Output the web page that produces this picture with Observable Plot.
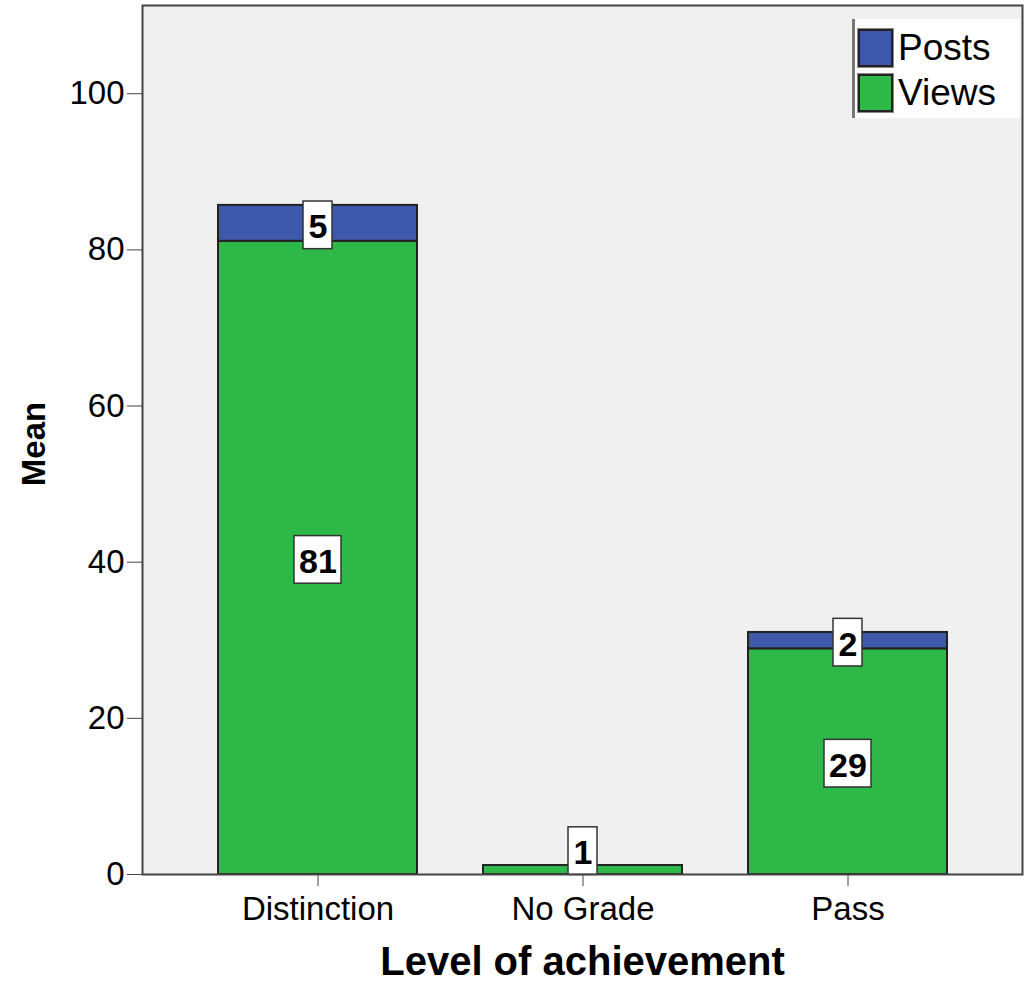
<!DOCTYPE html>
<html>
<head>
<meta charset="utf-8">
<script src="https://cdn.jsdelivr.net/npm/d3@7"></script>
<script src="https://cdn.jsdelivr.net/npm/@observablehq/plot@0.6"></script>
<style>
  html, body { margin: 0; padding: 0; background: white; }
  #wrap { position: relative; width: 1029px; height: 986px; }
  #legend { position: absolute; left: 852px; top: 19px; width: 168px; height: 99px;
            background: white; border-left: 3px solid #777; box-sizing: border-box;
            font-family: "Liberation Sans", Arial, sans-serif; font-size: 37px; }
  .item { position: absolute; left: 3px; display: flex; align-items: center; }
  .sw { width: 31px; height: 34px; border: 2px solid #222; box-shadow: 0 0 0 1px #888; margin-right: 5px; }
</style>
</head>
<body>
<div id="wrap"></div>
<script>
const categories = ["Distinction", "No Grade", "Pass"];
const seriesNames = ["Posts", "Views"];
const seriesColors = ["#3E58AC", "#2EB848"];
const viewsValues = [81.1, 1.15, 28.9];
const postsValues = [4.6, 0, 2.1];
const yTicks = [0, 20, 40, 60, 80, 100];
const xTitle = "Level of achievement";
const yTitle = "Mean";

const rows = [];
categories.forEach((c, i) => {
  rows.push({category: c, series: "Views", y1: 0, y2: viewsValues[i], value: viewsValues[i]});
  rows.push({category: c, series: "Posts", y1: viewsValues[i], y2: viewsValues[i] + postsValues[i], value: postsValues[i]});
});
const halfBox = 3.05;
const labels = rows.filter(d => d.value > 0.5).map(d => {
  const text = d3.format(".0f")(d.value);
  const mid = Math.max((d.y1 + d.y2) / 2, halfBox + 0.2);
  return {...d, text, mid, lo: mid - halfBox, hi: mid + halfBox};
});
const oneDigit = labels.filter(d => d.text.length === 1);
const twoDigit = labels.filter(d => d.text.length === 2);
const narrowBold = '"Liberation Sans Narrow", "Arial Narrow", "Liberation Sans", Arial, sans-serif';

const chart = Plot.plot({
  width: 1029,
  height: 986,
  marginLeft: 142,
  marginRight: 7,
  marginTop: 5,
  marginBottom: 112,
  style: {fontFamily: '"Liberation Sans", Arial, sans-serif', fontSize: "33px", background: "white", color: "black"},
  x: {domain: categories, paddingInner: 0.25, paddingOuter: 0.285, label: null},
  y: {domain: [0, 111.3], label: null},
  color: {domain: seriesNames, range: seriesColors},
  marks: [
    Plot.frame({fill: "#f0f0f0", stroke: null}),
    Plot.barY(rows.filter(d => d.value > 0), {x: "category", y1: "y1", y2: "y2", fill: "series", stroke: "#222", strokeWidth: 2}),
    Plot.barY(oneDigit, {x: "category", y1: "lo", y2: "hi", insetLeft: 85, insetRight: 85, fill: "white", stroke: "#333", strokeWidth: 1.5, dy: 2}),
    Plot.barY(twoDigit, {x: "category", y1: "lo", y2: "hi", insetLeft: 76, insetRight: 76, fill: "white", stroke: "#333", strokeWidth: 1.5, dy: 2}),
    Plot.text(labels, {x: "category", y: "mid", text: "text", fontWeight: "bold", fontSize: 34, fontFamily: narrowBold, fill: "black", dy: 4}),
    Plot.axisY({ticks: yTicks, tickSize: 15, tickPadding: 3, stroke: "#444", label: null}),
    Plot.axisX({tickSize: 12, tickPadding: 10, stroke: "#444", label: null}),
    Plot.text([yTitle], {frameAnchor: "left", textAnchor: "middle", lineAnchor: "middle", rotate: -90, dx: -108, dy: 4, text: d => d, fontWeight: "bold", fontSize: 33, fill: "black"}),
    Plot.text([xTitle], {frameAnchor: "bottom", textAnchor: "middle", lineAnchor: "middle", dy: 88, text: d => d, fontWeight: "bold", fontSize: 40, fill: "black"}),
    Plot.frame({stroke: "#444", strokeWidth: 2})
  ]
});
const wrap = document.getElementById("wrap");
wrap.appendChild(chart);

const legend = document.createElement("div");
legend.id = "legend";
seriesNames.forEach((s, i) => {
  const item = document.createElement("div");
  item.className = "item";
  item.style.top = (i === 0 ? 8 : 53) + "px";
  const sw = document.createElement("div");
  sw.className = "sw";
  sw.style.background = seriesColors[i];
  const t = document.createElement("span");
  t.textContent = s;
  item.appendChild(sw);
  item.appendChild(t);
  legend.appendChild(item);
});
wrap.appendChild(legend);
</script>
</body>
</html>
